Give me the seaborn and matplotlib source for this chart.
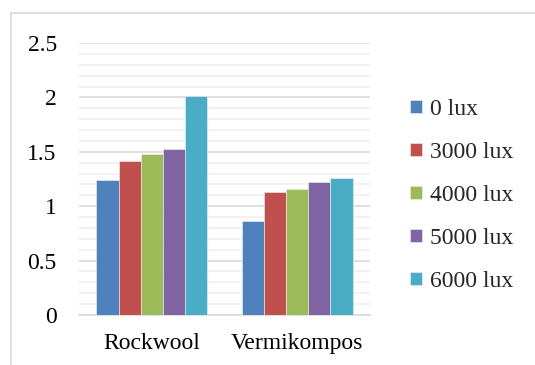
import matplotlib
matplotlib.use("Agg")
import matplotlib.pyplot as plt
from matplotlib.lines import Line2D
from matplotlib.ticker import MultipleLocator
import seaborn as sns
import pandas as pd

# Growth media and light intensity treatments
media = ["Rockwool", "Vermikompos"]
treatments = ["0 lux", "3000 lux", "4000 lux", "5000 lux", "6000 lux"]
rockwool = [1.24, 1.42, 1.48, 1.53, 2.01]
vermikompos = [0.86, 1.13, 1.16, 1.22, 1.26]
palette = ["#4F81BD", "#C0504D", "#9BBB59", "#8064A2", "#4BACC6"]

rows = []
for m, vals in zip(media, [rockwool, vermikompos]):
    for t, v in zip(treatments, vals):
        rows.append({"media": m, "treatment": t, "value": v})
df = pd.DataFrame(rows)

sns.set_theme(style="white")
plt.rcParams["font.family"] = ["Liberation Serif", "DejaVu Serif"]

fig = plt.figure(figsize=(5.35, 3.65), dpi=100)
ax = fig.add_axes([79 / 535, 1 - 315 / 365, 291 / 535, 272 / 365])

sns.barplot(data=df, x="media", y="value", hue="treatment",
            hue_order=treatments, order=media, palette=palette,
            width=0.76, gap=0, saturation=1, edgecolor="#f2f2f2",
            linewidth=0.4, ax=ax, zorder=3)

ax.set_ylim(0, 2.5)
ax.set_xlim(-0.5, 1.5)
ax.yaxis.set_major_locator(MultipleLocator(0.5))
ax.yaxis.set_minor_locator(MultipleLocator(0.1))
ax.yaxis.set_major_formatter(matplotlib.ticker.FuncFormatter(
    lambda v, p: f"{v:g}"))
ax.grid(which="major", axis="y", color="#d9d9d9", linewidth=1.2, zorder=0)
ax.grid(which="minor", axis="y", color="#f0f0f0", linewidth=1.2, zorder=0)
ax.set_axisbelow(True)
for side in ["top", "right", "left"]:
    ax.spines[side].set_visible(False)
ax.spines["bottom"].set_color("#d9d9d9")
ax.spines["bottom"].set_linewidth(1.2)
ax.tick_params(axis="y", which="both", length=0, pad=16, labelsize=17,
               labelcolor="black")
ax.tick_params(axis="x", length=0, pad=13, labelsize=17, labelcolor="black")
ax.set_xlabel("")
ax.set_ylabel("")

handles, labels = ax.get_legend_handles_labels()
ax.legend(handles, labels, loc="center left",
          bbox_to_anchor=(398 / 535, 1 - 195.5 / 365),
          bbox_transform=fig.transFigure, frameon=False, fontsize=17,
          handlelength=0.5, handleheight=0.5, handletextpad=0.35,
          labelspacing=0.93, borderpad=0)

# Chart frame
fig.add_artist(Line2D([11 / 535, 1.0], [1 - 13 / 365, 1 - 13 / 365],
                      transform=fig.transFigure, color="#d9d9d9", lw=1.2))
fig.add_artist(Line2D([11 / 535, 11 / 535], [0.0, 1 - 13 / 365],
                      transform=fig.transFigure, color="#d9d9d9", lw=1.2))

fig.savefig("out.png", dpi=100)
